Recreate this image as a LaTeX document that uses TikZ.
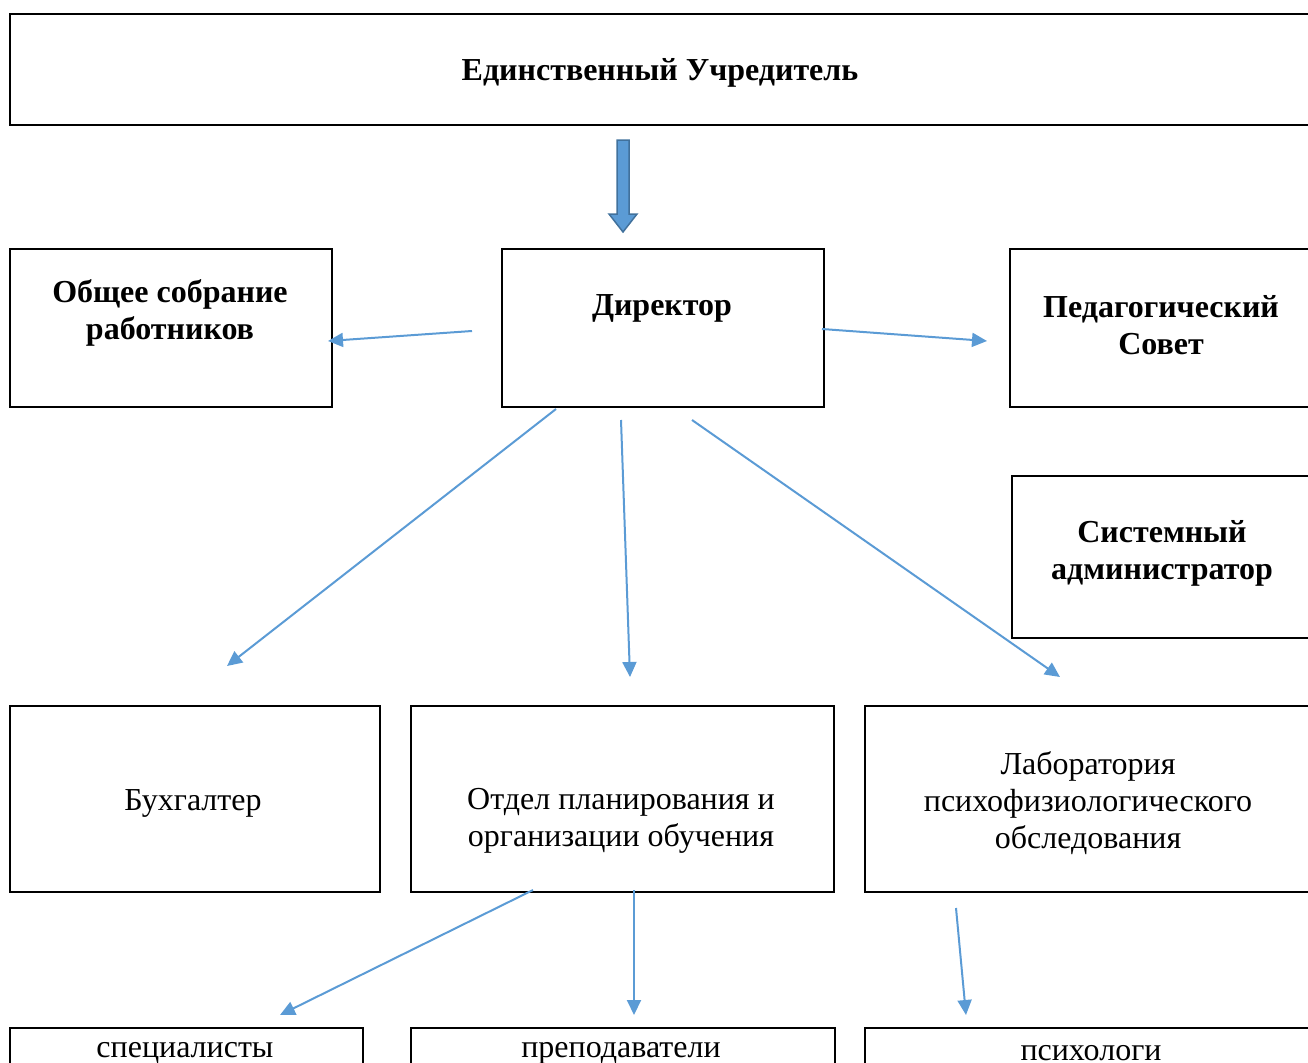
\documentclass[tikz,border=0pt]{standalone}
\usepackage{fontspec}
\setmainfont{Liberation Serif}
\usetikzlibrary{
	arrows.meta,
	calc}
\definecolor{link blue}{HTML}{5B9BD5}
\definecolor{link dark}{HTML}{41719C}
\tikzset{
	org chart/.style={
		x=1pt, y=-1pt,
		execute at begin picture={\useasboundingbox (0,0) rectangle (1308,1062);
			\clip (0,0) rectangle (1308,1062);}
		},
	box/.style={
		draw=black,
		line width=2pt,
		anchor=north west,
		inner sep=0pt
	},
	head text/.style={
		font=\fontsize{32}{37}\selectfont\bfseries,
		align=center
	},
	plain text/.style={
		font=\fontsize{32}{37}\selectfont,
		align=center
	},
	link/.style={
		draw=link blue,
		line width=2pt,
		-{Triangle[length=15pt,width=14pt]}
	},
	main arrow/.style={
		draw=link dark,
		fill=link blue,
		line width=1.5pt,
		line join=miter
	},
}
\begin{document}
\begin{tikzpicture}[org chart]
	\node[box, minimum width=1303, minimum height=111] (founder) at (9,13) {};
	\node[box, minimum width=322, minimum height=158]  (meeting) at (9,248) {};
	\node[box, minimum width=322, minimum height=158]  (dir) at (501,248) {};
	\node[box, minimum width=303, minimum height=158]  (council) at (1009,248) {};
	\node[box, minimum width=302, minimum height=162]  (sysadm) at (1011,475) {};
	\node[box, minimum width=370, minimum height=186]  (acc) at (9,705) {};
	\node[box, minimum width=423, minimum height=186]  (dept) at (410,705) {};
	\node[box, minimum width=448, minimum height=186]  (lab) at (864,705) {};
	\node[box, minimum width=353, minimum height=60]   (spec) at (9,1027) {};
	\node[box, minimum width=424, minimum height=60]   (teach) at (410,1027) {};
	\node[box, minimum width=448, minimum height=60]   (psych) at (864,1027) {};
%
	\node[head text]  (founder-t) at (660,73)   {Единственный Учредитель};
	\node[head text]  (meeting-t) at (170,313)  {Общее собрание\\работников};
	\node[head text]  (dir-t)     at (662,308)  {Директор};
	\node[head text]  (council-t) at (1161,325) {Педагогический\\Совет};
	\node[head text]  (sysadm-t)  at (1162,553) {Системный\\администратор};
	\node[plain text] (acc-t)     at (193,803)  {Бухгалтер};
	\node[plain text] (dept-t)    at (621,821)  {Отдел планирования и\\организации обучения};
	\node[plain text] (lab-t)     at (1088,803) {Лаборатория\\психофизиологического\\обследования};
	\node[plain text] (spec-t)    at (185,1053) {специалисты};
	\node[plain text] (teach-t)   at (621,1053) {преподаватели};
	\node[plain text] (psych-t)   at (1091,1053) {психологи};
%
	\draw[main arrow] (617,140) -- (629,140) -- (629,214) -- (637,214)
		-- (623,232) -- (609,214) -- (617,214) -- cycle;
%
	\draw[link] ($(dir.west)+(-29,3)$)   -- ($(meeting.east)+(-5,13)$);
	\draw[link] ($(dir.east)+(-3,1)$)    -- ($(council.west)+(-22,13)$);
	\draw[link] ($(dir.south)+(-107,1)$) -- ($(acc.north)+(32,-39)$);
	\draw[link] ($(dir.south)+(-42,12)$) -- ($(dept.north)+(7.5,-28)$);
	\draw[link] ($(dir.south)+(29,12)$)  -- ($(lab.north)+(-29,-28)$);
	\draw[link] ($(dept.south)+(-89.5,-3)$) -- ($(spec.north)+(93.5,-12)$);
	\draw[link] ($(dept.south)+(11.5,-3)$)  -- ($(teach.north)+(11,-12)$);
	\draw[link] ($(lab.south)+(-133,15)$)   -- ($(psych.north)+(-123,-12)$);
\end{tikzpicture}
\end{document}
